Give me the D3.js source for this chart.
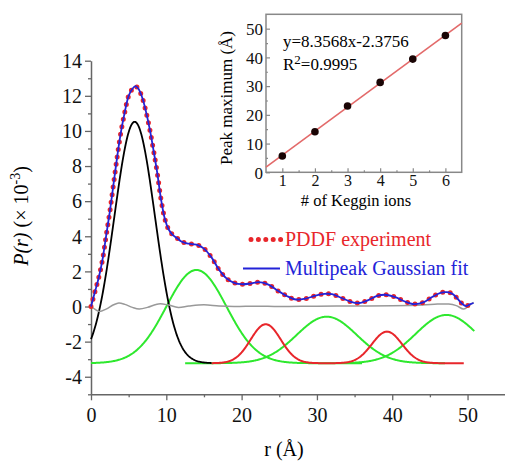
<!DOCTYPE html>
<html><head><meta charset="utf-8">
<script src="https://cdn.jsdelivr.net/npm/d3@7"></script>
<style>body{margin:0;background:#fff}svg{display:block}svg text{font-family:"Liberation Serif","Times New Roman",serif}</style>
</head><body><svg id="c" width="505" height="462" font-family="Liberation Serif, serif"></svg>
<script>
// ---- main chart data: PDDF experiment / fit (r in Å, P(r) ×10^-3) ----
const expR = [0,0.5,1,1.5,2,2.5,3,3.5,4,4.5,5,5.5,5.9,6.3,6.8,7.3,7.8,8.3,8.8,9.3,9.8,10.3,10.8,11.4,12,12.7,13.5,14.2,15,16,17,18,19,20,21,22,22.8,23.7,24.8,26,27.2,28.5,29.8,31,32,33.2,34.5,35.6,36.9,38,39.1,40.4,41.6,42.9,44.2,45.3,46.4,47.3,48,48.6,49.3,49.8,50.3,50.8];
const expP = [0,0.8,1.6,2.6,4.0,5.4,7.0,8.6,10.0,11.1,12.0,12.4,12.55,12.4,11.9,11.1,10.1,8.9,7.6,6.1,5.0,4.4,4.1,3.9,3.7,3.6,3.55,3.5,3.3,2.8,2.1,1.6,1.35,1.27,1.3,1.38,1.36,1.22,0.9,0.6,0.4,0.45,0.62,0.72,0.7,0.5,0.27,0.2,0.38,0.6,0.67,0.54,0.3,0.14,0.25,0.54,0.78,0.82,0.72,0.48,0.15,0.02,0.12,0.2];
// residual (gray)
const resR = [0,0.5,1.1,2,3,3.7,4.5,5.5,6.4,7.5,8.5,9.2,10.3,11.6,13,15,17,19,22,25,30,35,40,44,46,47.5,48.5,49.5,50.2,50.8];
const resP = [0,-0.15,-0.28,-0.15,0.1,0.2,0.12,-0.05,-0.14,-0.05,0.1,0.16,0.08,-0.05,0.03,0.1,0.03,0,0.02,0,0.02,0.03,0.04,0.08,0.14,0.14,0.05,-0.14,0.05,0.23];
// Gaussian components (offset baseline)
const compType   = ["green","green","green","red","red","black"];
const compCenter = [14.0, 31.3, 47.2, 23.2, 39.3, 5.8];
const compPeak   = [2.08, -0.58, -0.48, -1.01, -1.43, 10.52];
const compSigma  = [4.0, 4.0, 4.1, 2.0, 2.0, 2.7];
const compFrom   = [0, 12.5, 33, 16, 32, 0];
const compTo     = [36, 47, 50.9, 32, 49.5, 16];
const compBase   = -3.23;
// axis ticks
const xMajor = [0,10,20,30,40,50];
const xMinor = [5,15,25,35,45,55];
const yMajor = [-4,-2,0,2,4,6,8,10,12,14];
const yMinor = [-5,-3,-1,1,3,5,7,9,11,13];
// ---- inset data ----
const kegginN = [1,2,3,4,5,6];
const peakMax = [5.7,14.1,23.1,31.3,39.4,47.6];
const fitSlope = 8.3568, fitIntercept = -2.3756;
const insetXTicks = [1,2,3,4,5,6];
const insetYTicks = [0,10,20,30,40,50];

const colors = {green:"#2ee82e", red:"#e8262b", black:"#000"};
const FONT = "Liberation Serif, serif";

const svg = d3.select("#c");
const x = d3.scaleLinear().domain([0,55]).range([91,505.2]);
const y = d3.scaleLinear().domain([-5,14]).range([394.3,60.7]);
const axisColor = "#666";

function styleAxis(g){
  g.attr("font-family",FONT);
  g.select(".domain").attr("stroke",axisColor).attr("stroke-width",1.5);
  g.selectAll(".tick line").attr("stroke",axisColor).attr("stroke-width",1.3);
  g.selectAll(".tick text").attr("fill","#111").attr("font-family",FONT);
}
// y axis
const gy = svg.append("g").attr("transform","translate(91,0)")
  .call(d3.axisLeft(y).tickValues(yMajor).tickSize(6).tickSizeOuter(0).tickPadding(3).tickFormat(d=>String(d)));
styleAxis(gy); gy.selectAll(".tick text").attr("font-size",20).attr("dy","0.34em");
const gym = svg.append("g").attr("transform","translate(91,0)")
  .call(d3.axisLeft(y).tickValues(yMinor).tickSize(3).tickFormat(""));
styleAxis(gym); gym.select(".domain").remove();
// x axis
const gx = svg.append("g").attr("transform","translate(0,394.3)")
  .call(d3.axisBottom(x).tickValues(xMajor).tickSize(6).tickSizeOuter(0).tickPadding(8).tickFormat(d=>String(d)));
styleAxis(gx); gx.selectAll(".tick text").attr("font-size",20);
const gxm = svg.append("g").attr("transform","translate(0,394.3)")
  .call(d3.axisBottom(x).tickValues(xMinor).tickSize(3).tickFormat(""));
styleAxis(gxm); gxm.select(".domain").remove();

// axis titles
svg.append("text").attr("x",284).attr("y",456).attr("text-anchor","middle").attr("font-size",20).text("r (Å)");
const yt = svg.append("text").attr("transform","translate(28,216) rotate(-90)").attr("text-anchor","middle").attr("font-size",20);
yt.append("tspan").attr("font-style","italic").text("P(r)");
yt.append("tspan").text(" (× 10");
yt.append("tspan").attr("font-size",14).attr("dy",-8).text("-3");
yt.append("tspan").attr("dy",8).text(")");

// components
const line = d3.line().x(d=>x(d[0])).y(d=>y(d[1])).curve(d3.curveLinear);
[0,1,2,3,4,5].forEach(i=>{
  const pts=[];
  const A = compPeak[i]-compBase, s=compSigma[i], c=compCenter[i];
  for(let r=compFrom[i]; r<=compTo[i]+1e-9; r+=0.1){
    pts.push([r, compBase + A*Math.exp(-(r-c)*(r-c)/(2*s*s))]);
  }
  svg.append("path").attr("d",line(pts)).attr("fill","none")
    .attr("stroke",colors[compType[i]]).attr("stroke-width",compType[i]==="black"?1.8:2);
});

// residual
const smooth = d3.line().x(d=>x(d[0])).y(d=>y(d[1])).curve(d3.curveCatmullRom);
svg.append("path").attr("d",smooth(resR.map((r,i)=>[r,resP[i]]))).attr("fill","none")
  .attr("stroke","#999").attr("stroke-width",1.5);

// experiment dotted + fit line
const expPts = expR.map((r,i)=>[r,expP[i]]);
svg.append("path").attr("d",smooth(expPts)).attr("fill","none")
  .attr("stroke","#e8262b").attr("stroke-width",5).attr("stroke-linecap","round").attr("stroke-dasharray","0 7.6");
svg.append("path").attr("d",smooth(expPts)).attr("fill","none")
  .attr("stroke","#2323d8").attr("stroke-width",1.8);

// legend
svg.append("line").attr("x1",251).attr("x2",281).attr("y1",239.5).attr("y2",239.5)
  .attr("stroke","#e8262b").attr("stroke-width",5).attr("stroke-linecap","round").attr("stroke-dasharray","0 7.4");
svg.append("text").attr("x",285).attr("y",245.5).attr("font-size",20).attr("fill","#e8262b").text("PDDF experiment");
svg.append("line").attr("x1",243).attr("x2",280).attr("y1",268.5).attr("y2",268.5).attr("stroke","#2323d8").attr("stroke-width",2);
svg.append("text").attr("x",285).attr("y",274.5).attr("font-size",20).attr("fill","#2323d8").text("Multipeak Gaussian fit");

// ---- inset ----
const ix = d3.scaleLinear().domain([0.5,6.5]).range([266,461.7]);
const iy = d3.scaleLinear().domain([0,55]).range([172.3,14.3]);
const ig = svg.append("g");
ig.append("rect").attr("x",266).attr("y",14.3).attr("width",195.7).attr("height",158).attr("fill","#fff")
  .attr("stroke","#888").attr("stroke-width",1.5);
const iax = ig.append("g").attr("transform","translate(0,172.3)")
  .call(d3.axisBottom(ix).tickValues(insetXTicks).tickSize(-4).tickSizeOuter(0).tickPadding(4).tickFormat(d=>String(d)));
const iay = ig.append("g").attr("transform","translate(266,0)")
  .call(d3.axisLeft(iy).tickValues(insetYTicks).tickSize(-4).tickSizeOuter(0).tickPadding(3).tickFormat(d=>String(d)));
const iaxm = ig.append("g").attr("transform","translate(0,172.3)")
  .call(d3.axisBottom(ix).tickValues([1.5,2.5,3.5,4.5,5.5]).tickSize(-2).tickFormat(""));
const iaym = ig.append("g").attr("transform","translate(266,0)")
  .call(d3.axisLeft(iy).tickValues([5,15,25,35,45]).tickSize(-2).tickFormat(""));
[iax,iay,iaxm,iaym].forEach(g=>{
  g.attr("font-family",FONT);
  g.select(".domain").remove();
  g.selectAll(".tick line").attr("stroke","#888").attr("stroke-width",1.2);
  g.selectAll(".tick text").attr("font-size",16).attr("fill","#111").attr("font-family",FONT);
});
iay.selectAll(".tick text").attr("dy","0.34em").attr("font-size",17);
iax.selectAll(".tick text").attr("dy","0.62em");
// fit line
ig.append("line").attr("x1",ix(0.5)).attr("y1",iy(fitSlope*0.5+fitIntercept))
  .attr("x2",ix(6.5)).attr("y2",iy(fitSlope*6.5+fitIntercept))
  .attr("stroke","#e36a6a").attr("stroke-width",1.6);
ig.selectAll("circle").data(kegginN).enter().append("circle")
  .attr("cx",d=>ix(d)).attr("cy",(d,i)=>iy(peakMax[i])).attr("r",3.8).attr("fill","#1a0505");
ig.append("text").attr("x",283).attr("y",46.5).attr("font-size",17).text("y=8.3568x-2.3756");
const r2 = ig.append("text").attr("x",283).attr("y",70).attr("font-size",17);
r2.append("tspan").text("R");
r2.append("tspan").attr("font-size",13).attr("dy",-6).text("2");
r2.append("tspan").attr("dy",6).text("=0.9995");
ig.append("text").attr("x",356).attr("y",206).attr("text-anchor","middle").attr("font-size",16.5).text("# of Keggin ions");
ig.append("text").attr("transform","translate(232,98) rotate(-90)").attr("text-anchor","middle").attr("font-size",17).text("Peak maximum (Å)");
</script></body></html>
